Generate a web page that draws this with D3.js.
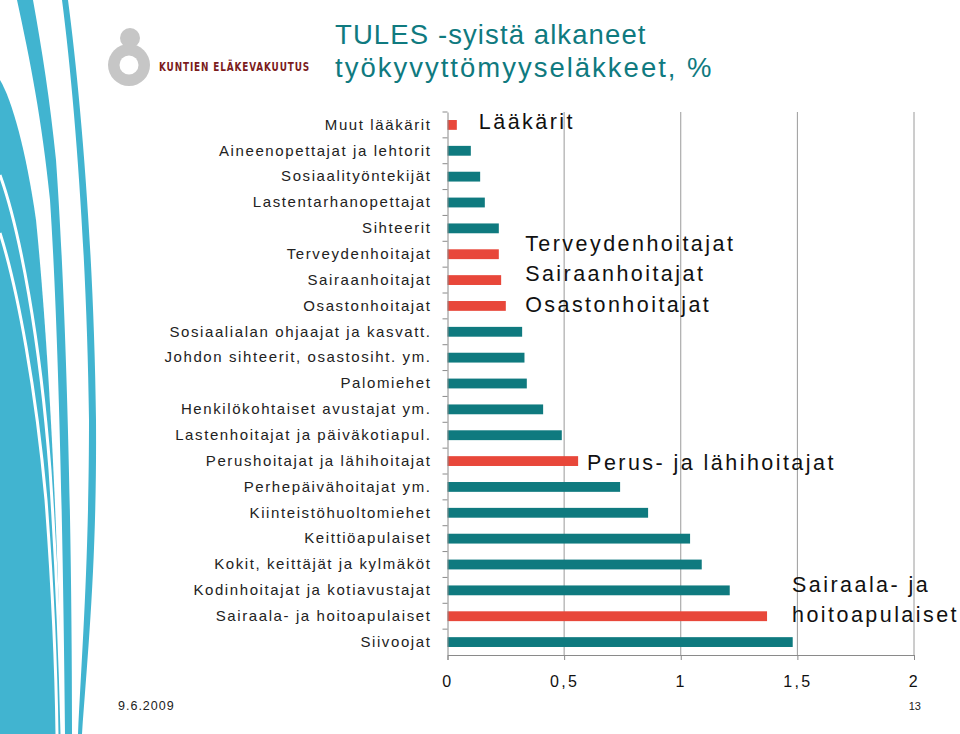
<!DOCTYPE html>
<html><head><meta charset="utf-8">
<script src="https://cdn.jsdelivr.net/npm/d3@7"></script>
<style>
html,body{margin:0;padding:0;background:#fff;}
svg{display:block;font-family:"Liberation Sans",Arial,sans-serif;}
</style></head>
<body>
<svg id="c" width="960" height="734"></svg>
<script>
const categories = [
  "Muut lääkärit","Aineenopettajat ja lehtorit","Sosiaalityöntekijät","Lastentarhanopettajat",
  "Sihteerit","Terveydenhoitajat","Sairaanhoitajat","Osastonhoitajat",
  "Sosiaalialan ohjaajat ja kasvatt.","Johdon sihteerit, osastosiht. ym.","Palomiehet",
  "Henkilökohtaiset avustajat ym.","Lastenhoitajat ja päiväkotiapul.","Perushoitajat ja lähihoitajat",
  "Perhepäivähoitajat ym.","Kiinteistöhuoltomiehet","Keittiöapulaiset","Kokit, keittäjät ja kylmäköt",
  "Kodinhoitajat ja kotiavustajat","Sairaala- ja hoitoapulaiset","Siivoojat"
];
const values = [0.04,0.10,0.14,0.16,0.22,0.22,0.23,0.25,0.32,0.33,0.34,0.41,0.49,0.56,0.74,0.86,1.04,1.09,1.21,1.37,1.48];
const highlighted = ["Muut lääkärit","Terveydenhoitajat","Sairaanhoitajat","Osastonhoitajat","Perushoitajat ja lähihoitajat","Sairaala- ja hoitoapulaiset"];
const tickValues = [0,0.5,1,1.5,2];
const tickLabels = ["0","0,5","1","1,5","2"];
const titleLines = ["TULES -syistä alkaneet","työkyvyttömyyseläkkeet, %"];
const annotations = [
  {cat:"Muut lääkärit", lines:["Lääkärit"], dx:22, dy:-4},
  {cat:"Sairaanhoitajat", lines:["Terveydenhoitajat","Sairaanhoitajat","Osastonhoitajat"], dx:24, dy:-7},
  {cat:"Perushoitajat ja lähihoitajat", lines:["Perus- ja lähihoitajat"], dx:9, dy:1},
  {cat:"Sairaala- ja hoitoapulaiset", lines:["Sairaala- ja","hoitoapulaiset"], dx:25, dy:-17}
];

const TEAL = "#0f7a7f", RED = "#e8473a";
const svg = d3.select("#c");

// decorative stripes
const deco = svg.append("g");
const BLUE = "#41b4d0";
deco.append("path").attr("fill",BLUE)
  .attr("d","M0,80 C12,100 26,150 36,220 C48,340 58,520 62,734 L0,734 Z");
deco.append("path").attr("fill",BLUE)
  .attr("d","M17,0 L33,0 C42,50 50,100 56,160 C66,300 72,520 72,734 L65,734 C63,520 58,320 50,200 C42,120 30,60 17,0 Z");
deco.append("path").attr("fill",BLUE)
  .attr("d","M62,0 L68,0 C80,90 94,250 96,420 C97,560 88,650 82,734 L78,734 C82,650 89,560 89,420 C87,260 75,100 62,0 Z");
deco.append("path").attr("fill","none").attr("stroke","#fff").attr("stroke-width",3)
  .attr("d","M0,175 C20,230 40,340 50,470 C56,560 60,650 62,734");
deco.append("path").attr("fill","none").attr("stroke","#fff").attr("stroke-width",3)
  .attr("d","M0,233 C18,290 36,390 46,500 C52,580 56,660 57,734");

// logo
const logo = svg.append("g");
logo.append("circle").attr("cx",130).attr("cy",38).attr("r",10).attr("fill","#c6c6c6");
logo.append("circle").attr("cx",129).attr("cy",65).attr("r",21).attr("fill","#c6c6c6");
logo.append("circle").attr("cx",129).attr("cy",65).attr("r",9.5).attr("fill","#fff");
logo.append("text").attr("x",159).attr("y",71).attr("fill","#7b1c1c")
  .attr("font-family","'DejaVu Sans Condensed','Liberation Sans Narrow',sans-serif")
  .attr("font-weight","bold").attr("font-size",12.5).attr("letter-spacing",1.1)
  .attr("textLength",151).attr("lengthAdjust","spacingAndGlyphs")
  .text("KUNTIEN ELÄKEVAKUUTUS");

// title
svg.append("g").selectAll("text").data(titleLines).join("text")
  .attr("x",335).attr("y",(d,i)=>44+i*33)
  .attr("fill",TEAL).attr("font-size",27.5).attr("letter-spacing",(d,i)=>i?2.0:1.1)
  .text(d=>d);

// scales
const x = d3.scaleLinear().domain([0,2]).range([447.5,914]);
const y = d3.scaleBand().domain(categories).range([112,655]).paddingInner(0.62).paddingOuter(0.31);
const step = y.step();

// gridlines
svg.append("g").selectAll("line").data(tickValues.slice(1)).join("line")
  .attr("x1",d=>x(d)).attr("x2",d=>x(d)).attr("y1",112).attr("y2",655)
  .attr("stroke","#9a9a9a").attr("stroke-width",1);

// bars
svg.append("g").selectAll("rect").data(categories).join("rect")
  .attr("x",x(0)).attr("y",d=>y(d))
  .attr("width",(d,i)=>x(values[i])-x(0)).attr("height",y.bandwidth())
  .attr("fill",d=>highlighted.includes(d)?RED:TEAL);

// x axis
const xAxis = d3.axisBottom(x).tickValues(tickValues).tickFormat((d,i)=>tickLabels[i]).tickSize(5).tickPadding(16);
const gx = svg.append("g").attr("transform","translate(0,655)").call(xAxis);
gx.select(".domain").attr("stroke","#8a8a8a");
gx.selectAll(".tick line").attr("stroke","#8a8a8a");
gx.selectAll("text").attr("font-size",16).attr("fill","#111").attr("letter-spacing",2.4)
  .attr("font-family","'Liberation Sans',Arial,sans-serif");

// y axis
const yAxis = d3.axisLeft(y).tickSize(0).tickPadding(16);
const gy = svg.append("g").attr("transform",`translate(${x(0)},0)`).call(yAxis);
gy.select(".domain").attr("stroke","#8a8a8a");
gy.selectAll("text").attr("font-size",15).attr("fill","#222").attr("letter-spacing",1.6)
  .attr("font-family","'Liberation Sans',Arial,sans-serif");
// boundary ticks
svg.append("g").selectAll("line").data(categories).join("line")
  .attr("x1",x(0)-5).attr("x2",x(0))
  .attr("y1",d=>y(d)+y.bandwidth()/2-step/2).attr("y2",d=>y(d)+y.bandwidth()/2-step/2)
  .attr("stroke","#8a8a8a");

// annotations
const ann = svg.append("g").attr("fill","#111").attr("font-size",21.5).attr("letter-spacing",2.45);
annotations.forEach(a=>{
  const i = categories.indexOf(a.cat);
  const cy = y(a.cat)+y.bandwidth()/2 + a.dy;
  const n = a.lines.length;
  a.lines.forEach((t,k)=>{
    ann.append("text").attr("x",x(values[i])+a.dx)
      .attr("y",cy+8+(k-(n-1)/2)*30.5)
      .text(t);
  });
});

// footer
svg.append("text").attr("x",118).attr("y",710).attr("font-size",12.5).attr("fill","#222").attr("letter-spacing",1).text("9.6.2009");
svg.append("text").attr("x",921).attr("y",710).attr("text-anchor","end").attr("font-size",11).attr("fill","#222").text("13");
</script>
</body></html>
